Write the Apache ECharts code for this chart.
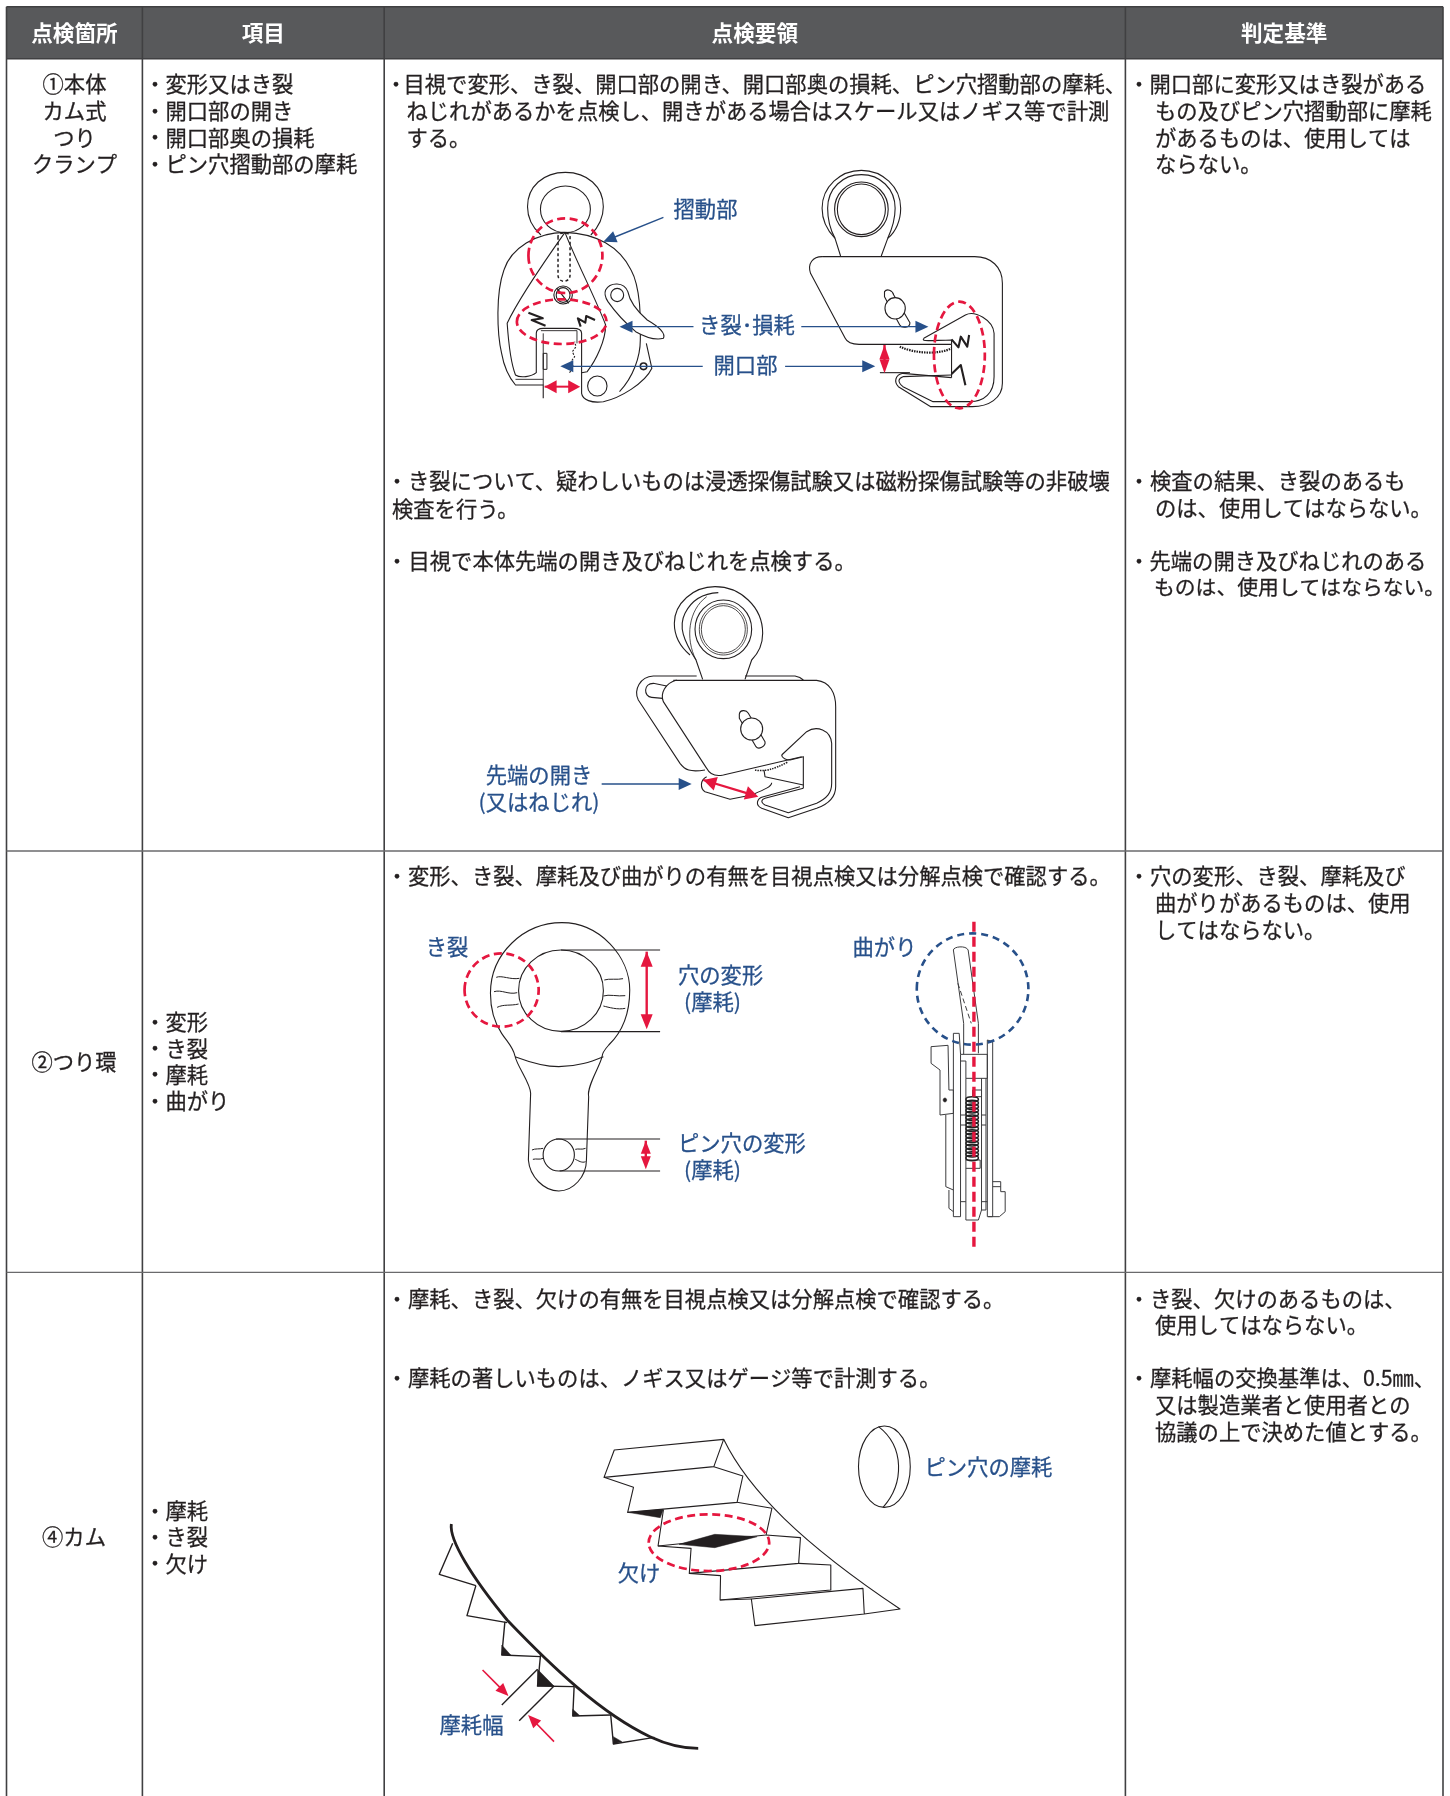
<!DOCTYPE html>
<html><head><meta charset="utf-8">
<style>html,body{margin:0;padding:0;background:#fff}#c{width:1450px;height:1796px}</style>
<script src="https://cdn.jsdelivr.net/npm/echarts@6/dist/echarts.min.js"></script>
</head><body><div id="c"></div>
<script>
// ---------- text content ----------
const headers = ['点検箇所','項目','点検要領','判定基準'];
const parts = ['①本体','カム式','つり','クランプ','②つり環','④カム'];
const items1 = ['変形又はき裂','開口部の開き','開口部奥の損耗','ピン穴摺動部の摩耗'];
const items2 = ['変形','き裂','摩耗','曲がり'];
const items3 = ['摩耗','き裂','欠け'];
const method = [
 '目視で変形、き裂、開口部の開き、開口部奥の損耗、ピン穴摺動部の摩耗、',
 'ねじれがあるかを点検し、開きがある場合はスケール又はノギス等で計測',
 'する。',
 'き裂について、疑わしいものは浸透探傷試験又は磁粉探傷試験等の非破壊',
 '検査を行う。',
 '目視で本体先端の開き及びねじれを点検する。',
 '変形、き裂、摩耗及び曲がりの有無を目視点検又は分解点検で確認する。',
 '摩耗、き裂、欠けの有無を目視点検又は分解点検で確認する。',
 '摩耗の著しいものは、ノギス又はゲージ等で計測する。'
];
const criteria = [
 '開口部に変形又はき裂がある','もの及びピン穴摺動部に摩耗','があるものは、使用しては','ならない。',
 '検査の結果、き裂のあるも','のは、使用してはならない。',
 '先端の開き及びねじれのある','ものは、使用してはならない。',
 '穴の変形、き裂、摩耗及び','曲がりがあるものは、使用','してはならない。',
 'き裂、欠けのあるものは、','使用してはならない。',
 '摩耗幅の交換基準は、0.5㎜、','又は製造業者と使用者との','協議の上で決めた値とする。'
];
const calloutLabels = ['摺動部','き裂･損耗','開口部','先端の開き','(又はねじれ)','き裂','穴の変形','(摩耗)','ピン穴の変形','(摩耗)','曲がり','ピン穴の摩耗','欠け','摩耗幅'];

// ---------- layout ----------
const FONT = '"Noto Sans CJK JP","Noto Sans CJK SC",sans-serif';
const INK='#231f20', LINE='#4d4d4f', BLUE='#27508a', RED='#e5173f', HEAD='#58595b';
const colX=[6.5,142.4,384.2,1125.4,1443], rowY=[6.7,58.7,851,1272.4,1796];
const els=[];
const add=e=>{e.silent=true;els.push(e);};
function txt(s,x,y,o={}){add({type:'text',z:o.z||5,style:{text:s,x,y,fill:o.fill||INK,stroke:o.weight?null:(o.fill||INK),lineWidth:o.weight?0:.28,font:`${o.weight||'normal'} ${o.size||21.3}px ${FONT}`,align:o.align||'left',verticalAlign:'middle'}});}
function bullet(x,y){txt('・',x,y,{align:'center',size:21});}
function hline(x1,y1,x2,y2,w,c){add({type:'line',z:3,shape:{x1,y1,x2,y2},style:{stroke:c||LINE,lineWidth:w||1.5}});}

// table
add({type:'rect',z:1,shape:{x:colX[0],y:rowY[0],width:colX[4]-colX[0],height:rowY[1]-rowY[0]},style:{fill:HEAD}});
colX.forEach(x=>hline(x,rowY[0],x,rowY[4],1.6,'#404042'));
[rowY[0],rowY[1],rowY[2],rowY[3]].forEach((y,i)=>hline(colX[0],y,colX[4],y,i<2?1.6:1.4,i<2?'#404042':'#6a6a6c'));
headers.forEach((h,i)=>txt(h,(colX[i]+colX[i+1])/2,33,{fill:'#fff',align:'center',weight:'bold',size:21.6}));

// first column
[84,111,137.5,164,1062,1537].forEach((y,i)=>txt(parts[i],i>=4?74:74.5,y,{align:'center'}));
// second column
const cI=[[items1,[84,111,137.5,164]],[items2,[1022,1048.5,1074.5,1101]],[items3,[1511,1537,1563.5]]];
cI.forEach(([a,ys])=>a.forEach((s,i)=>{bullet(155,ys[i]);txt(s,165.5,ys[i]);}));
// third column
const mPos=[[403.5,84,396],[406.5,111],[406.5,137.5],[408,481,397],[392,508.5],[408.5,561,397],[408,876,397],[408,1298.7,397],[408,1378,397]];
method.forEach((s,i)=>{const p=mPos[i];if(p[2])bullet(p[2],p[1]);txt(s,p[0],p[1]);});
// fourth column (the one over-long line is set slightly tighter, as in the reference)
const cPos=[[1149.5,84,1139],[1155,111],[1155,137.5],[1155,164],[1150,481,1139],[1155,508],[1149.5,561,1139],[1154,587.5,0,20.8],[1150,876,1139],[1155,903],[1155,930],[1150,1298.7,1139],[1155,1325],[1150,1378,1139],[1155,1405],[1155,1431.5]];
criteria.forEach((s,i)=>{const p=cPos[i];if(p[2])bullet(p[2],p[1]);txt(s,p[0],p[1],{size:p[3]});});
// callouts
const lPos=[[705.5,209,'center'],[747,325,'center'],[745.5,365,'center'],[539,775,'center'],[539,801.5,'center'],[447,947,'center'],[678,975,'left'],[684,1002,'left'],[678,1143,'left'],[684,1170,'left'],[884.5,947,'center'],[924.5,1467,'left'],[639,1573,'center'],[471.5,1725,'center']];
calloutLabels.forEach((s,i)=>{const p=lPos[i];txt(s,p[0],p[1],{fill:BLUE,align:p[2]});});

// ---------- illustration helpers ----------
let pathId=0;
function mapper(ox,oy,sx,sy){
  const f={
    x:X=>ox+X/sx, y:Y=>oy+Y/sy,
    path(d,o={}){
      const out=d.replace(/(-?[\d.]+),(-?[\d.]+)/g,(m,a,b)=>(f.x(+a)).toFixed(2)+','+(f.y(+b)).toFixed(2));
      const name='inkPath'+(pathId++);
      echarts.graphic.registerShape(name,echarts.graphic.extendPath(out,{}));
      add({type:name,z:o.z||4,shape:{},style:{stroke:o.stroke===undefined?INK:o.stroke,lineWidth:o.w||1.1,fill:o.fill||null,lineDash:o.dash||null,lineCap:o.cap||'butt',lineJoin:'round'}});
    },
    ell(cx,cy,rx,ry,o={}){
      add({type:'ellipse',z:o.z||4,shape:{cx:f.x(cx),cy:f.y(cy),rx:rx/sx,ry:ry/sy},style:{stroke:o.stroke||INK,lineWidth:o.w||1.1,fill:o.fill||null,lineDash:o.dash||null}});
    },
    arrow(a,b,c,d,o={}){
      const x1=f.x(a),y1=f.y(b),x2=f.x(c),y2=f.y(d),col=o.color||BLUE,hl=o.hl||13,hw=o.hw||6;
      const L=Math.hypot(x2-x1,y2-y1),ux=(x2-x1)/L,uy=(y2-y1)/L,nx=-uy,ny=ux;
      const head=(px,py,dx,dy)=>add({type:'polygon',z:6,shape:{points:[[px,py],[px-dx*hl+nx*hw,py-dy*hl+ny*hw],[px-dx*hl-nx*hw,py-dy*hl-ny*hw]]},style:{fill:col}});
      add({type:'line',z:6,shape:{x1,y1,x2:x2-ux*hl*.8,y2:y2-uy*hl*.8},style:{stroke:col,lineWidth:o.w||1.4}});
      head(x2,y2,ux,uy); if(o.both)head(x1,y1,-ux,-uy);
    }
  };
  return f;
}
const dashRed=[8,4.5], dashBlue=[7,5], RW=2.7;

// --- Drawing 1: front view clamp
const A=mapper(0,0,2.163,3);
A.path('M1170,705 C1150,680 1141,650 1141,620 C1141,560 1175,517 1223,517 C1270,517 1305,560 1305,620 C1305,650 1295,680 1278,705');
A.ell(1223,628,54,70);
A.path('M1222,697 C1160,697 1105,745 1090,810 C1072,880 1075,1000 1085,1060 C1090,1100 1100,1130 1115,1155 L1175,1155 L1175,1195');
A.path('M1222,697 C1290,700 1340,740 1365,810 C1385,860 1387,960 1385,1020 C1385,1070 1370,1130 1340,1175');
A.path('M1222,697 C1190,760 1120,900 1097,970 C1100,1030 1105,1090 1115,1125 C1125,1135 1150,1130 1160,1118 L1160,1000 Q1160,985 1175,985 L1240,985 Q1258,985 1258,1000 L1258,1180 C1260,1200 1280,1210 1305,1205 C1340,1195 1395,1150 1410,1105 L1398,1030');
A.path('M1222,697 C1245,780 1290,900 1310,975 C1310,1020 1290,1080 1270,1115 L1258,1118');
A.path('M1170,992 L1248,992 L1248,1030',{w:.9});
A.path('M1175,1000 L1175,1155',{w:.9});
A.path('M1175,1060 L1183,1060 L1183,1108 L1175,1108 Z',{w:1});
A.path('M1232,1118 L1240,1100 L1235,1085 L1243,1070 L1238,1055 L1246,1040 L1243,1025',{w:1.1,dash:[2,1.5]});
A.path('M1115,1138 L1175,1138',{w:.9});
A.path('M1310,870 C1320,845 1350,845 1358,875 C1362,905 1375,930 1400,960 C1425,980 1440,1000 1435,1015 C1420,1020 1400,1015 1375,995 C1345,960 1325,925 1315,905 C1308,890 1307,880 1310,870 Z',{fill:'#fff',z:4});
A.ell(1335,885,14,20);
A.ell(1218,885,20,27); A.ell(1218,885,15,22);
A.path('M1205,865 L1230,910',{w:1.2});
A.ell(1292,1158,21,30);
A.ell(1392,1099,7,10,{w:1.6});
A.path('M1207,710 L1207,825 C1207,850 1233,850 1233,825 L1233,710 C1233,695 1207,695 1207,710',{dash:[3,2.5],w:1.5});
A.ell(1223,767,80,112,{stroke:RED,w:RW,dash:dashRed,z:5});
A.ell(1215,965,97,67,{stroke:RED,w:RW,dash:dashRed,z:5});
A.path('M1143,938 L1174,955 L1150,960 L1180,977',{w:2.1});
A.path('M1287,960 L1268,948 L1266,968 L1250,955 L1256,980',{w:2.1});
A.arrow(1435,652,1305,725);
A.arrow(1500,980,1340,980);
A.arrow(1520,1099,1212,1099);
A.arrow(1178,1160,1255,1160,{color:RED,both:true,w:2,hl:12,hw:6.5});

// --- Drawing 2: side view clamp
const B=mapper(725,0,2.163,3);
B.path('M250,768 L238,715 C220,690 210,660 210,625 C210,560 250,511 295,511 C340,511 380,560 380,625 C380,660 370,695 352,715 L338,768');
B.path('M238,715 C226,685 222,660 222,625 C222,565 255,524 295,524 C335,524 368,565 368,625 C368,660 362,685 352,715');
B.ell(295,628,58,82); B.ell(295,628,52,76);
B.path('M210,770 L540,770 C575,770 600,800 600,850 L600,1150 C600,1195 570,1220 535,1220 L445,1220 L375,1160 C365,1145 368,1125 385,1120 L490,1133');
B.path('M210,770 C190,770 178,790 185,820 L260,1015 C265,1030 275,1033 290,1033 L490,1033');
B.path('M490,1033 L490,1133');
B.path('M430,1015 C425,1025 435,1022 490,1020 L490,1033');
B.path('M430,1015 L520,945 C540,930 580,960 582,1000 L582,1130 C582,1180 560,1205 530,1205 L450,1205 L385,1160 C372,1145 375,1135 385,1130 L490,1125');
B.path('M378,1040 C410,1060 460,1065 490,1045',{w:2.2,dash:[1.5,1]});
B.path('M335,1118 L400,1118',{w:1.1});
B.path('M345,875 C350,865 362,870 365,885 L400,968 C400,985 382,985 378,975 L345,890 Z',{fill:'#fff'});
B.ell(368,925,22,32,{fill:'#fff'});
B.path('M490,1018 L505,1042 L510,1010 L524,1040 L528,1005',{w:2.1});
B.path('M490,1122 L510,1095 L520,1156',{w:2.1});
B.ell(507,1065,55,160,{stroke:RED,w:RW,dash:dashRed,z:5});
B.arrow(165,980,440,980);
B.arrow(130,1099,325,1099);
B.arrow(345,1035,345,1120,{color:RED,both:true,w:2.4,hl:14,hw:5});

// --- Drawing 3: clamp tip
const C=mapper(390,560,3,3);
C.path('M900,285 C870,260 853,225 853,190 C853,130 910,80 975,80 C1050,80 1118,140 1118,220 C1118,260 1100,285 1085,300 L1065,358');
C.path('M938,358 L918,300 C880,240 865,200 885,160 C905,120 940,100 985,98');
C.path('M918,300 C885,235 895,150 950,110',{w:.8});
C.ell(1000,208,85,88); C.ell(1000,208,72,77,{w:.8}); C.ell(1000,208,66,71,{w:.8});
C.path('M920,348 L790,348 C750,350 730,390 745,420 L870,610 C885,630 900,637 945,630');
C.path('M830,378 L790,370 C760,370 760,410 785,412 L818,415');
C.path('M1065,348 L1215,348 C1225,350 1235,355 1240,360');
C.path('M860,360 C825,370 810,400 820,425 L950,625 C960,645 975,650 1000,645 L1235,590');
C.path('M850,361 L1280,361 C1320,365 1337,400 1337,440 L1337,680 C1337,710 1320,730 1280,745 L1195,773 L1115,745 C1095,735 1100,715 1120,710 L1230,680');
C.path('M1175,585 L1250,515 C1280,495 1322,510 1325,550 L1325,670 C1325,700 1310,715 1280,730 L1195,758 L1125,735 C1110,725 1115,718 1125,715 L1240,685');
C.path('M1175,585 C1175,595 1190,600 1200,600 L1240,590 L1240,685');
C.path('M1240,675 L1125,650 L1122,630');
C.path('M950,650 C930,660 930,685 945,695 L1020,718 L1085,705 C1120,690 1145,680 1145,668');
C.path('M1095,630 C1120,635 1150,630 1195,605',{w:1.5,dash:[1.5,1]});
C.path('M1048,462 C1050,450 1068,448 1075,460 L1125,545 C1128,560 1105,570 1098,560 L1048,475 Z',{fill:'#fff'});
C.ell(1085,507,33,33,{fill:'#fff'});
C.arrow(635,672,905,672);
C.arrow(940,660,1105,710,{color:RED,both:true,w:2.2,hl:13,hw:7});

// --- Drawing 4: eye bolt
const D=mapper(390,900,2.24,3);
D.path('M280,468 C275,440 265,430 250,400 C230,360 225,320 225,280 C225,160 300,68 385,68 C470,68 537,170 537,270 C537,330 525,390 490,435 C480,450 475,465 475,470 C470,500 440,560 445,590 L440,780 C440,830 410,873 378,873 C345,873 313,830 310,780 L315,580 C315,550 285,500 280,468');
D.path('M280,470 C320,490 350,500 378,500 C420,500 450,485 478,470');
D.ell(383,272,95,122);
D.path('M383,150 L605,150'); D.path('M383,395 L605,395'); D.path('M372,717 L605,717'); D.path('M380,813 L605,813');
D.ell(378,765,35,48);
['M238,232 C250,225 270,240 290,235','M233,275 C250,268 265,285 285,278','M240,322 C255,312 270,318 288,312','M480,240 C490,235 510,240 522,236','M478,288 C490,282 510,290 527,287','M478,318 C490,322 510,330 527,325','M318,750 C325,745 335,748 343,745','M320,778 C328,775 335,780 343,775','M415,748 C422,745 430,750 438,745','M415,778 C422,782 430,790 438,785'].forEach(p=>D.path(p,{w:1}));
D.ell(250,270,83,110,{stroke:RED,w:RW,dash:dashRed,z:5});
D.arrow(575,155,575,388,{color:RED,both:true,w:2.4,hl:15,hw:6});
D.arrow(573,722,573,808,{color:RED,both:true,w:2.4,hl:13,hw:5});

// --- Drawing 5: side view of eye bolt
const E=mapper(390,900,2.24,3);
const gw=1, G='#3c3c3e';
E.path('M1262,150 C1262,140 1290,135 1295,150 L1318,370 L1318,460',{w:gw,stroke:G});
E.path('M1262,150 L1285,370 L1285,463',{w:gw,stroke:G});
E.path('M1272,250 L1302,370',{w:gw,stroke:G,dash:[5,3]});
E.path('M1262,400 L1275,400 L1278,463 L1278,950 L1262,950 L1262,400 Z',{w:gw,stroke:G});
E.path('M1338,420 L1350,425 L1350,950 L1338,950 Z',{w:gw,stroke:G});
E.path('M1212,440 L1250,436 L1252,570 L1262,570 L1262,640 L1232,645 L1232,510 L1212,490 Z',{w:gw,stroke:G});
E.path('M1245,645 L1245,860 L1262,870',{w:gw,stroke:G});
E.path('M1252,870 L1252,925 L1262,935',{w:gw,stroke:G});
E.path('M1278,463 L1338,463 L1338,535 L1290,535 L1290,483 L1278,483',{w:gw,stroke:G});
E.path('M1290,535 L1290,960 L1318,960 L1325,930 L1325,535',{w:gw,stroke:G});
E.path('M1335,535 L1335,930 L1325,930',{w:gw,stroke:G});
E.path('M1278,645 L1290,645 M1278,675 L1290,675 M1325,645 L1335,645 M1325,675 L1335,675 M1278,905 L1290,905 M1325,905 L1338,905',{w:gw,stroke:G});
E.path('M1305,570 L1325,570 L1325,590 L1305,590 Z',{w:gw,stroke:G});
E.path('M1290,780 L1322,780 L1322,805 L1290,805',{w:gw,stroke:G});
E.path('M1350,845 L1368,845 L1368,875 L1378,875 L1378,935 L1365,950 L1340,950',{w:gw,stroke:G});
E.path('M1350,860 L1368,860',{w:gw,stroke:G});
E.ell(1243,600,4,6,{fill:INK,w:.5});
for(const y of [598,609,620,631,642,653,664,675,686,697,708,719,730,741,752,763,774]){E.ell(1304,y,14,8,{w:1.5,stroke:'#222'});}
E.ell(1305,267,125,167,{stroke:BLUE,w:2.6,dash:dashBlue,z:5});
E.path('M1308,65 L1308,1040',{stroke:RED,w:3.4,dash:[10,5],z:6});

// --- Drawing 6: cam teeth
const F=mapper(400,1400,2.24,3);
F.path('M480,150 L725,118 L703,200 L457,232 Z');
F.path('M725,118 C780,270 900,430 1120,627 L1040,642 L795,677 L787,597 L1037,565 L1040,642');
F.path('M703,200 L768,228 L755,307 L510,337 L523,262 L457,232');
F.path('M755,307 L833,325 L820,405 L578,438 L590,330');
F.path('M820,405 L897,413 L893,490 L648,520 L652,445 L578,438');
F.path('M893,490 L965,495 L965,570 L717,600 L718,527 L648,520');
F.path('M717,600 L787,597');
F.path('M510,337 L590,328 L583,353 Z',{fill:INK,stroke:INK,w:.5});
F.path('M625,433 L705,403 L800,410 L705,443 Z',{fill:INK,stroke:INK,w:.5});
F.ell(692,428,135,85,{stroke:RED,w:RW,dash:dashRed,z:5});
F.ell(1085,200,58,122);
F.path('M1072,80 C1130,140 1130,250 1082,322');
F.path('M115,372 C110,420 160,530 240,660 C340,800 450,940 560,1010 C600,1035 630,1045 668,1045',{w:2.8});
['M118,430 L88,523 L170,557','M170,557 L150,647 L240,668','M235,665 L228,765 L315,770','M315,762 L308,860','M308,808 L228,915','M345,858 L267,962','M308,858 L390,860','M390,860 L387,948 L472,945','M472,945 L478,1032 L570,1012'].forEach(p=>F.path(p,{w:1.4}));
['M228,735 L228,765 L248,765 Z','M308,808 L308,858 L345,858 Z','M387,928 L387,948 L403,947 Z','M478,1010 L478,1032 L497,1025 Z'].forEach(p=>F.path(p,{fill:INK,stroke:INK,w:.5}));
F.arrow(185,810,243,888,{color:RED,w:1.6,hl:13,hw:5.5});
F.arrow(345,1025,287,945,{color:RED,w:1.6,hl:13,hw:5.5});

const chart=echarts.init(document.getElementById('c'),null,{renderer:'canvas'});
chart.setOption({animation:false,backgroundColor:'#fff',graphic:{elements:els}});
</script></body></html>
